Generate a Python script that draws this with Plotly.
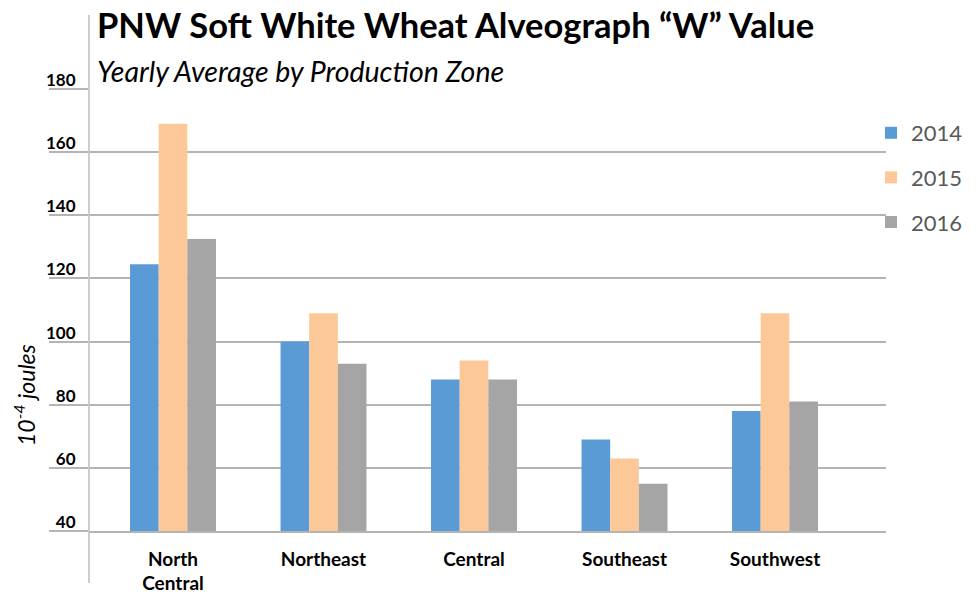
import plotly.graph_objects as go

# Production zones and yearly average alveograph W values (10^-4 joules)
zones = ["North<br>Central", "Northeast", "Central", "Southeast", "Southwest"]
years = ["2014", "2015", "2016"]
w_2014 = [124.5, 100, 88, 69, 78]
w_2015 = [169, 109, 94, 63, 109]
w_2016 = [132.5, 93, 88, 55, 81]
y_ticks = [40, 60, 80, 100, 120, 140, 160, 180]

colors = {"2014": "#5b9bd5", "2015": "#fdc898", "2016": "#a5a5a5"}
series = {"2014": w_2014, "2015": w_2015, "2016": w_2016}

W, H = 980, 594
L, R, T, B = 89, 886, 89, 531  # plot area edges in px

font_family = "Lato, 'Open Sans', sans-serif"
grid_color = "#b4b4b4"

fig = go.Figure()
for yr in years:
    fig.add_trace(go.Bar(
        x=zones, y=series[yr], name=yr,
        marker=dict(color=colors[yr], line=dict(width=0)),
        legendgroup=yr,
    ))

# category positions: first zone centred at 173px, 150.5px per zone
px_per_cat = 150.5
x_lo = -(173 - L) / px_per_cat
x_hi = 4 + (R - 775) / px_per_cat

fig.update_layout(
    width=W, height=H,
    margin=dict(l=L, r=W - R, t=T, b=H - B, pad=0, autoexpand=False),
    paper_bgcolor="white", plot_bgcolor="white",
    barmode="group", bargap=0.429, bargroupgap=0,
    font=dict(family=font_family, color="black"),
    showlegend=True,
    legend=dict(
        x=(871 - L) / (R - L), xanchor="left",
        y=(B - 112) / (B - T), yanchor="top",
        font=dict(size=22, color="#595959"),
        tracegroupgap=13, itemwidth=30,
        bgcolor="rgba(0,0,0,0)",
    ),
    xaxis=dict(
        range=[x_lo, x_hi], showgrid=False, zeroline=False, automargin=False,
        showline=True, linecolor=grid_color, linewidth=1.5,
        ticks="", tickfont=dict(size=19, color="black", family=font_family, weight="bold"),
        ticklabelstandoff=10,
    ),
    yaxis=dict(
        range=[40, 180], tickvals=y_ticks, showgrid=True, gridcolor=grid_color,
        gridwidth=1.5, zeroline=False, showline=False, automargin=False,
        ticks="outside", ticklen=L - 50, tickcolor=grid_color, tickwidth=1.5,
        tickfont=dict(size=17, color="black", family=font_family, weight="bold"),
        ticklabelstandoff=-30, ticklabelshift=-9,
    ),
)

# vertical axis line running past the plot area
fig.add_shape(type="line", xref="paper", yref="paper",
              x0=0, x1=0, y0=(B - 583) / (B - T), y1=(B - 15) / (B - T),
              line=dict(color="#bdbdbd", width=1.5))

# title and subtitle
fig.add_annotation(text="<b>PNW Soft White Wheat Alveograph “W” Value</b>",
                   xref="paper", yref="paper",
                   x=(95 - L) / (R - L), y=(B - 2) / (B - T),
                   xanchor="left", yanchor="top", showarrow=False,
                   font=dict(size=34.5, color="black", family=font_family))
fig.add_annotation(text="<i>Yearly Average by Production Zone</i>",
                   xref="paper", yref="paper",
                   x=(95 - L) / (R - L), y=(B - 52) / (B - T),
                   xanchor="left", yanchor="top", showarrow=False,
                   font=dict(size=28.5, color="black", family=font_family))

# y-axis title
fig.add_annotation(text="<i>10<sup>-4</sup> joules</i>",
                   xref="paper", yref="paper",
                   x=(24 - L) / (R - L), y=(B - 395) / (B - T),
                   xanchor="center", yanchor="middle", textangle=-90,
                   showarrow=False,
                   font=dict(size=23, color="black", family=font_family))

fig.write_html("out.html")
